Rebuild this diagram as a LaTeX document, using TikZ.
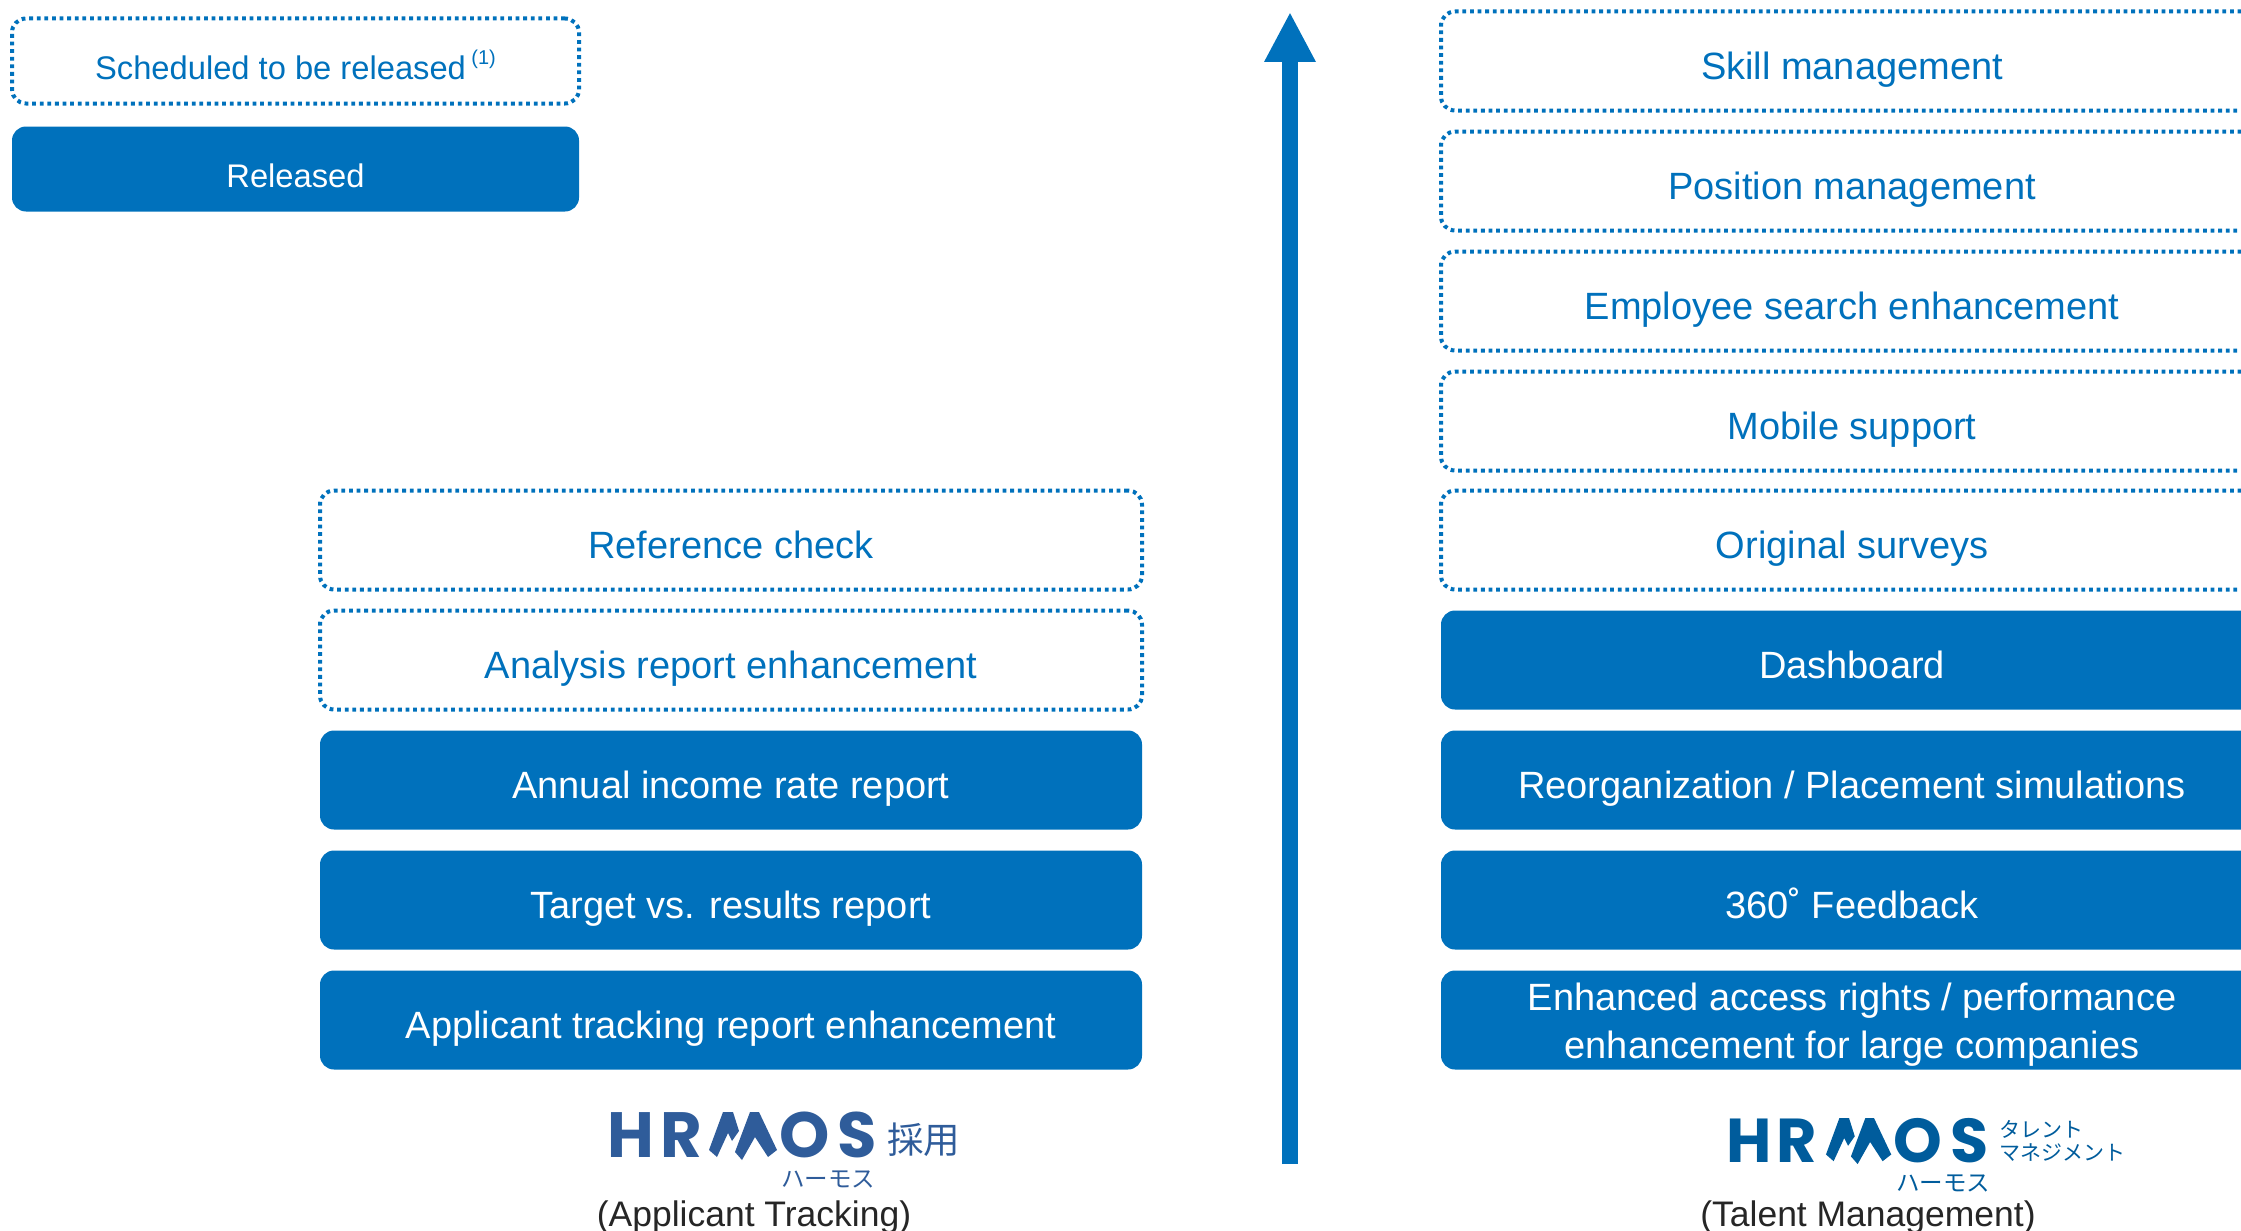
\documentclass[tikz,border=0pt]{standalone}
\usepackage{fontspec}
\setmainfont{Liberation Sans}
\newfontfamily\logofont{Poppins}
\newfontfamily\jpfont{Noto Sans CJK JP}
\usetikzlibrary{arrows.meta}

\definecolor{hrblue}{HTML}{0071BC}
\definecolor{logoa}{HTML}{2F5C9A}
\definecolor{logob}{HTML}{005C9C}

\tikzset{
	box/.style={rounded corners=14pt, minimum width=\w, minimum height=\h, inner sep=0pt, align=center, text height=37pt, text depth=0pt, font=\fontsize{38}{48}\selectfont},
	released/.style={box, fill=hrblue, text=white},
	scheduled/.style={box, draw=hrblue, text=hrblue, line width=4pt, dash pattern=on 3.8pt off 3.8pt},
	legend/.style={minimum width=567pt, minimum height=85pt, font=\fontsize{32.7}{40}\selectfont},
	logotext/.style={inner sep=0pt, anchor=base west, font=\fontsize{#1}{#1}\logofont\bfseries},
	jptext/.style={inner sep=0pt, anchor=base west, text height=.85em, text depth=0pt, font=\jpfont\fontsize{#1}{#1}\selectfont},
	caption/.style={inner sep=0pt, anchor=base, text height=.75em, text depth=0pt, text=black!85, font=\fontsize{35.5}{35.5}\selectfont}
}

\begin{document}
\begin{tikzpicture}[x=1pt, y=-1pt]
		\def\w{822pt};
		\def\h{99pt};
		\def\mountainmark{
			\fill (1,38) -- (15,0) -- (25,0) -- (31,19) -- (24,29) -- (20,21) -- (9,45) -- cycle;
			\fill (27,40) -- (42,0) -- (51,0) -- (69,38) -- (60,45) -- (47,25) -- (34,48) -- cycle;
		};
		\useasboundingbox (0,0) rectangle (2241,1231);

		% legend
		\node [scheduled, legend] (legendscheduled) at (295.5,61) {Scheduled to be released\,\raisebox{0.45em}{\fontsize{20}{20}\selectfont(1)}};
		\node [released, legend] (legendreleased) at (295.5,169) {Released};

		% applicant tracking
		\node [scheduled] (reference) at (731,540) {Reference check};
		\node [scheduled] (analysis) at (731,660) {Analysis report enhancement};
		\node [released] (annual) at (731,780) {Annual income rate report};
		\node [released] (target) at (731,900) {Target vs. results report};
		\node [released] (tracking) at (731,1020) {Applicant tracking report enhancement};

		% talent management
		\node [scheduled] (skill) at (1852,61) {Skill management};
		\node [scheduled] (position) at (1852,181) {Position management};
		\node [scheduled] (search) at (1852,301) {Employee search enhancement};
		\node [scheduled] (mobile) at (1852,421) {Mobile support};
		\node [scheduled] (surveys) at (1852,540) {Original surveys};
		\node [released] (dashboard) at (1852,660) {Dashboard};
		\node [released] (reorganization) at (1852,780) {Reorganization / Placement simulations};
		\node [released] (feedback) at (1852,900) {360˚ Feedback};
		\node [released, text height=76pt, text depth=0pt] (access) at (1852,1020) {Enhanced access rights / performance\\enhancement for large companies};

		% arrow
		\coordinate (arrowbase) at (1290,1164);
		\coordinate (arrowtip) at (1290,12);
		\draw [hrblue, line width=16pt, -{Triangle[length=50pt, width=48pt]}] (arrowbase) -- (arrowtip);

		% left logo
		\begin{scope} [logoa]
			\node [logotext=64, logoa] (hleft) at (607,1157) {H};
			\node [logotext=64, logoa] (rleft) at (660,1157) {R};
			\node [logotext=64, logoa] (oleft) at (779,1157) {O};
			\node [logotext=64, logoa] (sleft) at (837,1157) {S};
			\begin{scope} [shift={(708,1112)}]
				\mountainmark
			\end{scope}
			\node [jptext=36.5, logoa] (saiyo) at (887,1153) {採用};
			\node [jptext=23.5, logoa] (kanaleft) at (781,1187) {ハーモス};
		\end{scope}
		\node [caption] (captionleft) at (754,1226) {(Applicant Tracking)};

		% right logo
		\begin{scope} [logob]
			\node [logotext=62, logob] (hright) at (1726,1162) {H};
			\node [logotext=62, logob] (rright) at (1776,1162) {R};
			\node [logotext=62, logob] (oright) at (1893,1162) {O};
			\node [logotext=62, logob] (sright) at (1950,1162) {S};
			\begin{scope} [shift={(1825,1118)}, scale=0.96]
				\mountainmark
			\end{scope}
			\node [jptext=21, logob] (talent) at (1999,1137) {タレント};
			\node [jptext=21, logob] (manage) at (1999,1160) {マネジメント};
			\node [jptext=23.5, logob] (kanaright) at (1896,1191) {ハーモス};
		\end{scope}
		\node [caption] (captionright) at (1868,1226) {(Talent Management)};
	\end{tikzpicture}
\end{document}
